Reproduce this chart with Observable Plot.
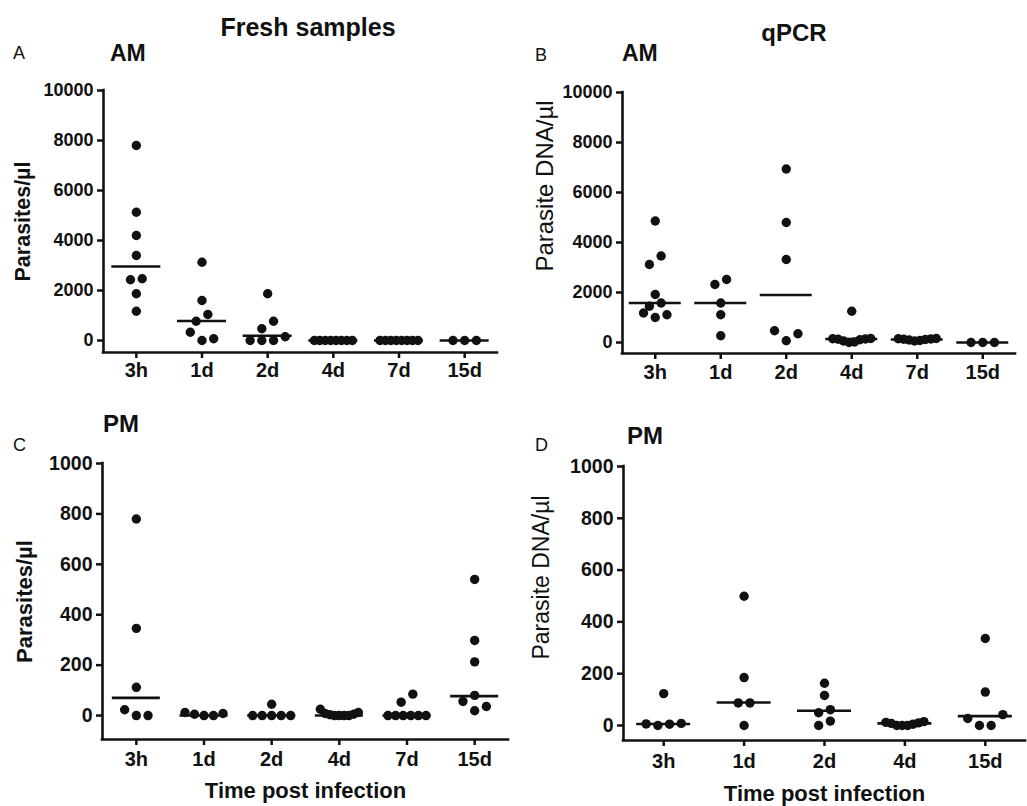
<!DOCTYPE html>
<html>
<head>
<meta charset="utf-8">
<script src="https://cdn.jsdelivr.net/npm/d3@7"></script>
<script src="https://cdn.jsdelivr.net/npm/@observablehq/plot@0.6"></script>
<style>
  html, body { margin: 0; padding: 0; background: #fff; }
  #root { position: relative; width: 1027px; height: 806px; background: #fff; font-family: "Liberation Sans", Arial, sans-serif; color: #111; overflow: hidden; }
  .t { position: absolute; line-height: 1; white-space: nowrap; transform: translate(0, -50%); }
  .c { transform: translate(-50%, -50%); }
  .b { font-weight: bold; }
  .panel { position: absolute; }
  .panel svg { display: block; }
  [aria-label^="y-axis"] line, [aria-label^="y-axis"] path,
  [aria-label^="x-axis"] line, [aria-label^="x-axis"] path { stroke-width: 2.5px; stroke: #111; }
  [aria-label^="x-axis"] text { font-size: 20px; }
</style>
</head>
<body>
<div id="root">
  <div class="t c b" style="left:308px; top:27px; font-size:25px;">Fresh samples</div>
  <div class="t c b" style="left:794px; top:33px; font-size:24px;">qPCR</div>
  <div class="t" style="left:13px; top:53px; font-size:18px;">A</div>
  <div class="t b" style="left:110px; top:53px; font-size:23px;">AM</div>
  <div class="t" style="left:535px; top:55px; font-size:18px;">B</div>
  <div class="t b" style="left:622px; top:53px; font-size:23px;">AM</div>
  <div class="t" style="left:13px; top:445px; font-size:18px;">C</div>
  <div class="t b" style="left:103px; top:424px; font-size:24px;">PM</div>
  <div class="t" style="left:535px; top:445px; font-size:18px;">D</div>
  <div class="t b" style="left:627px; top:436px; font-size:24px;">PM</div>
  <div id="pA" class="panel" style="left:0px; top:60px;"></div>
  <div id="pB" class="panel" style="left:513px; top:60px;"></div>
  <div id="pC" class="panel" style="left:0px; top:440px;"></div>
  <div id="pD" class="panel" style="left:513px; top:440px;"></div>
</div>
<script>
// ---------------- data ----------------
const catsAM = ["3h", "1d", "2d", "4d", "7d", "15d"];
const catsFreshPM = ["3h", "1d", "2d", "4d", "7d", "15d"];
const catsQpcrPM = ["3h", "1d", "2d", "4d", "15d"];

const ticksAM = [0, 2000, 4000, 6000, 8000, 10000];
const ticksPM = [0, 200, 400, 600, 800, 1000];

// A: fresh samples, AM (parasites/µl)
const freshAM = [
  [7800, 5130, 4200, 3400, 2470, 2430, 1870, 1170],
  [3130, 1600, 1040, 770, 330, 70, 0],
  [1870, 770, 470, 150, 0, 0, 0],
  [0, 0, 0, 0, 0, 0, 0, 0],
  [0, 0, 0, 0, 0, 0, 0, 0],
  [0, 0, 0]
];
const freshAMMedian = [2960, 780, 190, 0, 0, 0];

// B: qPCR, AM (parasite DNA/µl)
const qpcrAM = [
  [4860, 3460, 3120, 1920, 1580, 1450, 1180, 1110, 1000],
  [2520, 2320, 1580, 1110, 270],
  [6940, 4800, 3320, 470, 350, 70],
  [1250, 160, 150, 140, 130, 110, 60, 20, 0],
  [160, 150, 140, 130, 120, 100, 80, 60],
  [0, 0, 0]
];
const qpcrAMMedian = [1580, 1580, 1900, 140, 120, 0];

// C: fresh samples, PM (parasites/µl)
const freshPM = [
  [780, 346, 112, 23, 0, 0],
  [12, 8, 5, 0, 0],
  [45, 0, 0, 0, 0, 0],
  [25, 12, 8, 5, 3, 0, 0, 0, 0],
  [85, 53, 0, 0, 0, 0, 0, 0],
  [540, 298, 213, 80, 56, 36, 19]
];
const freshPMMedian = [70, 0, 0, 0, 0, 77];

// D: qPCR, PM (parasite DNA/µl)
const qpcrPM = [
  [123, 8, 6, 5, 0],
  [499, 185, 87, 87, 0],
  [163, 116, 61, 49, 17, 0],
  [15, 12, 10, 8, 5, 0, 0, 0],
  [336, 129, 42, 27, 0, 0]
];
const qpcrPMMedian = [6, 89, 57, 8, 36];

// ---------------- drawing ----------------
const FONT = '"Liberation Sans", Arial, sans-serif';

// spread points of one column horizontally (scatter-dot-plot style):
// near-equal values form a row; the lowest sits in the middle, higher ones outward
function spread(vals, pxPerUnit, bandPx, rowGap, spacing, maxSpan) {
  const order = d3.range(vals.length).sort((a, b) => vals[a] - vals[b]);
  const rows = [];
  let cur = null;
  for (const i of order) {
    if (cur && (vals[i] - vals[cur[0]]) * pxPerUnit < rowGap) cur.push(i);
    else { cur = [i]; rows.push(cur); }
  }
  const off = new Array(vals.length).fill(0);
  for (const row of rows) {
    const k = row.length;
    if (k < 2) continue;
    const s = Math.min(spacing, maxSpan / (k - 1));
    const slots = d3.range(k).map((j) => j - (k - 1) / 2);
    slots.sort((a, b) => Math.abs(a) - Math.abs(b) || (k % 2 ? b - a : a - b));
    row.forEach((i, j) => { off[i] = slots[j] * s / bandPx; });
  }
  return off;
}

function panel(el, cfg) {
  const {values, medians, cats, yTicks, yMin, yMax, width, height,
         marginLeft, marginRight, marginTop, marginBottom,
         yLabel, yLabelSize, yLabelWeight, labelDx, labelDy,
         xTitle, xTitleDy, tickFont, xPad, medHalfPx} = cfg;
  const n = cats.length;
  const frameW = width - marginLeft - marginRight;
  const frameH = height - marginTop - marginBottom;
  const bandPx = frameW / n;
  const pxPerUnit = frameH / (yMax - yMin);

  const points = [];
  values.forEach((vals, i) => {
    const off = spread(vals, pxPerUnit, bandPx, 11, 11.7, 38);
    vals.forEach((v, j) => points.push({cat: cats[i], x: i + off[j], v}));
  });
  const meds = medians.map((m, i) => ({cat: cats[i], v: m,
    x1: i - medHalfPx / bandPx, x2: i + medHalfPx / bandPx}));

  const marks = [
    Plot.ruleY(meds, {y: "v", x1: "x1", x2: "x2", stroke: "#111", strokeWidth: 2.6}),
    Plot.dot(points, {x: "x", y: "v", r: 4.7, fill: "#111", stroke: "none"}),
    Plot.ruleX([-0.5], {stroke: "#111", strokeWidth: 2.6, strokeLinecap: "square"}),
    Plot.ruleY([yMin], {stroke: "#111", strokeWidth: 2.6, strokeLinecap: "square"}),
    Plot.text([yLabel], {frameAnchor: "left", dx: labelDx, dy: labelDy, rotate: -90,
      fontSize: yLabelSize, fontWeight: yLabelWeight, textAnchor: "middle", lineAnchor: "middle", fill: "#111"})
  ];
  if (xTitle) marks.push(Plot.text([xTitle], {frameAnchor: "bottom", dy: xTitleDy,
      fontSize: 22, fontWeight: "bold", textAnchor: "middle", lineAnchor: "middle", fill: "#111"}));

  const chart = Plot.plot({
    width, height, marginLeft, marginRight, marginTop, marginBottom,
    style: {fontFamily: FONT, fontSize: tickFont + "px", fontWeight: "bold", color: "#111",
            background: "transparent", overflow: "visible"},
    x: {domain: [-0.5, n - 0.5], ticks: d3.range(n), tickFormat: (i) => cats[i],
        tickSize: 6, tickPadding: xPad, label: null},
    y: {domain: [yMin, yMax], ticks: yTicks, tickFormat: (d) => String(d),
        tickSize: 6, tickPadding: 4, label: null},
    marks
  });
  document.getElementById(el).appendChild(chart);
}

panel("pA", {values: freshAM, medians: freshAMMedian, cats: catsAM, yTicks: ticksAM,
  yMin: -480, yMax: 10000, width: 513, height: 340,
  marginLeft: 103, marginRight: 16, marginTop: 30, marginBottom: 48,
  yLabel: "Parasites/µl", yLabelSize: 21.5, yLabelWeight: "bold", labelDx: -80, labelDy: 0,
  tickFont: 18, xPad: 4, medHalfPx: 24.5});

panel("pB", {values: qpcrAM, medians: qpcrAMMedian, cats: catsAM, yTicks: ticksAM,
  yMin: -440, yMax: 10000, width: 514, height: 340,
  marginLeft: 109, marginRight: 12, marginTop: 32, marginBottom: 47,
  yLabel: "Parasite DNA/µl", yLabelSize: 24, yLabelWeight: "normal", labelDx: -77, labelDy: -37,
  tickFont: 18, xPad: 5, medHalfPx: 26});

panel("pC", {values: freshPM, medians: freshPMMedian, cats: catsFreshPM, yTicks: ticksPM,
  yMin: -95, yMax: 1000, width: 513, height: 366,
  marginLeft: 102, marginRight: 5, marginTop: 23, marginBottom: 67,
  yLabel: "Parasites/µl", yLabelSize: 22, yLabelWeight: "bold", labelDx: -78, labelDy: 0,
  xTitle: "Time post infection", xTitleDy: 51,
  tickFont: 19.5, xPad: 6, medHalfPx: 24});

panel("pD", {values: qpcrPM, medians: qpcrPMMedian, cats: catsQpcrPM, yTicks: ticksPM,
  yMin: -58, yMax: 1000, width: 514, height: 366,
  marginLeft: 110, marginRight: 2, marginTop: 26, marginBottom: 66,
  yLabel: "Parasite DNA/µl", yLabelSize: 23, yLabelWeight: "normal", labelDx: -82, labelDy: -26,
  xTitle: "Time post infection", xTitleDy: 53,
  tickFont: 19.5, xPad: 7, medHalfPx: 27});
</script>
</body>
</html>
